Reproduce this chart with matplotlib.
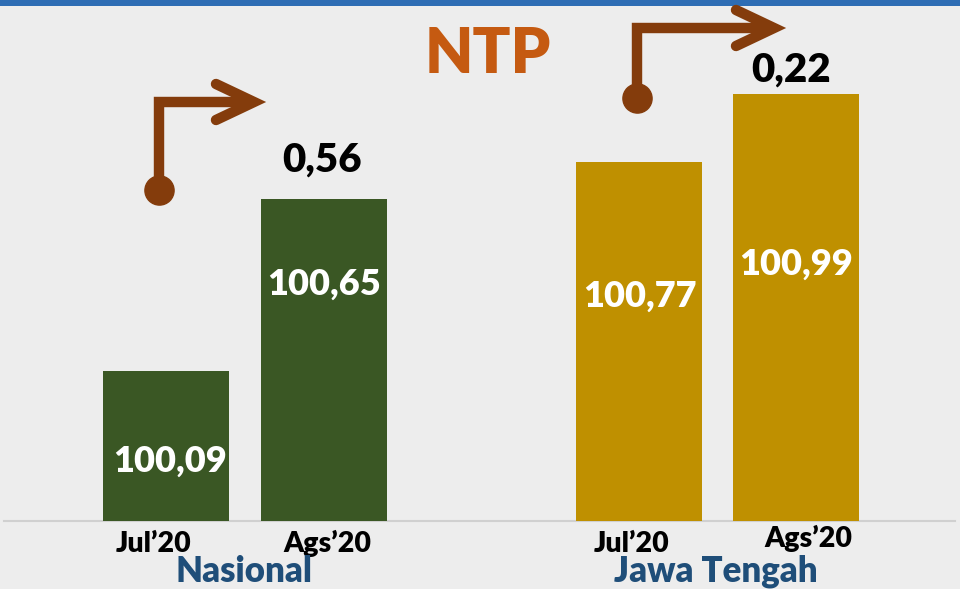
import matplotlib
matplotlib.use("Agg")
import matplotlib.pyplot as plt

# ---- data ----
groups = ["Nasional", "Jawa Tengah"]
periods = ["Jul\u201920", "Ags\u201920"]
nasional = [100.09, 100.65]
jateng = [100.77, 100.99]
changes = ["0,56", "0,22"]
title = "NTP"

# ---- styles ----
BG = "#EDEDED"
GREEN = "#3A5724"
GOLD = "#BF9000"
BROWN = "#843C0C"
ORANGE = "#C55A11"
NAVY = "#1F4E79"
TOPBLUE = "#2E6DB4"
FONT = ["Lato", "DejaVu Sans"]
WT = "heavy"

W, H = 960, 589
fig = plt.figure(figsize=(W / 100, H / 100), dpi=100, facecolor=BG)

# main axes covering the whole figure, value scale
ax = fig.add_axes([0, 0, 1, 1])
ax.set_facecolor(BG)
base = 99.6
ppu = 307.0  # pixels per unit
ax.set_ylim(base - (H - 521) / ppu, base + 521 / ppu)
unit = 157.5
ax.set_xlim(-166 / unit, (W - 166) / unit)
ax.axis("off")

pos = [0, 1, 3, 4]
vals = nasional + jateng
cols = [GREEN, GREEN, GOLD, GOLD]
ax.bar(pos, [v - base for v in vals], bottom=base, width=0.8, color=cols, zorder=2)
ax.axhline(base, xmin=4 / W, xmax=955 / W, color="#D0D0D0", lw=1.5, zorder=1)

# overlay axes in pixel coordinates for decorations and text
ov = fig.add_axes([0, 0, 1, 1], facecolor="none")
ov.set_xlim(0, W)
ov.set_ylim(H, 0)
ov.axis("off")

# top blue strip
ov.fill_between([0, W], 0, 6, color=TOPBLUE, lw=0)

# values inside bars (x center, baseline y)
val_pos = [(170, 472), (324, 295), (640, 307), (796, 275)]
for v, (x, y) in zip(vals, val_pos):
    ov.text(x, y, f"{v:.2f}".replace(".", ","), color="white", fontsize=26,
            fontweight=WT, family=FONT, ha="center", va="baseline")

# change labels
chg_pos = [(322, 172), (791, 82)]
for c, (x, y) in zip(changes, chg_pos):
    ov.text(x, y, c, color="black", fontsize=29, fontweight=WT,
            family=FONT, ha="center", va="baseline")

# title
ov.text(488, 73, title, color=ORANGE, fontsize=45, fontweight=WT,
        family=FONT, ha="center", va="baseline")

# period labels
per_pos = [(154, 552), (327, 552), (632, 552), (808, 547)]
per_labels = periods + periods
for t, (x, y) in zip(per_labels, per_pos):
    ov.text(x, y, t, color="black", fontsize=20.5, fontweight=WT,
            family=FONT, ha="center", va="baseline")

# group labels
grp_pos = [(244, 582), (716, 582)]
for g, (x, y) in zip(groups, grp_pos):
    ov.text(x, y, g, color=NAVY, fontsize=25, fontweight=WT,
            family=FONT, ha="center", va="baseline")

# arrows
def bent_arrow(x0, y0, ytop, xtip):
    ov.plot([x0, x0, xtip - 4], [y0, ytop, ytop], color=BROWN, lw=7.5,
            solid_joinstyle="miter", solid_capstyle="butt", zorder=3)
    ov.plot([xtip - 38, xtip, xtip - 38], [ytop - 18, ytop, ytop + 18],
            color=BROWN, lw=7.5, solid_joinstyle="miter",
            solid_capstyle="round", zorder=3)
    ov.plot([x0], [y0], "o", color=BROWN, ms=21, zorder=4)

bent_arrow(159, 190, 102, 254)
bent_arrow(637, 98, 28, 774)

fig.savefig("out.png", dpi=100, facecolor=BG)
